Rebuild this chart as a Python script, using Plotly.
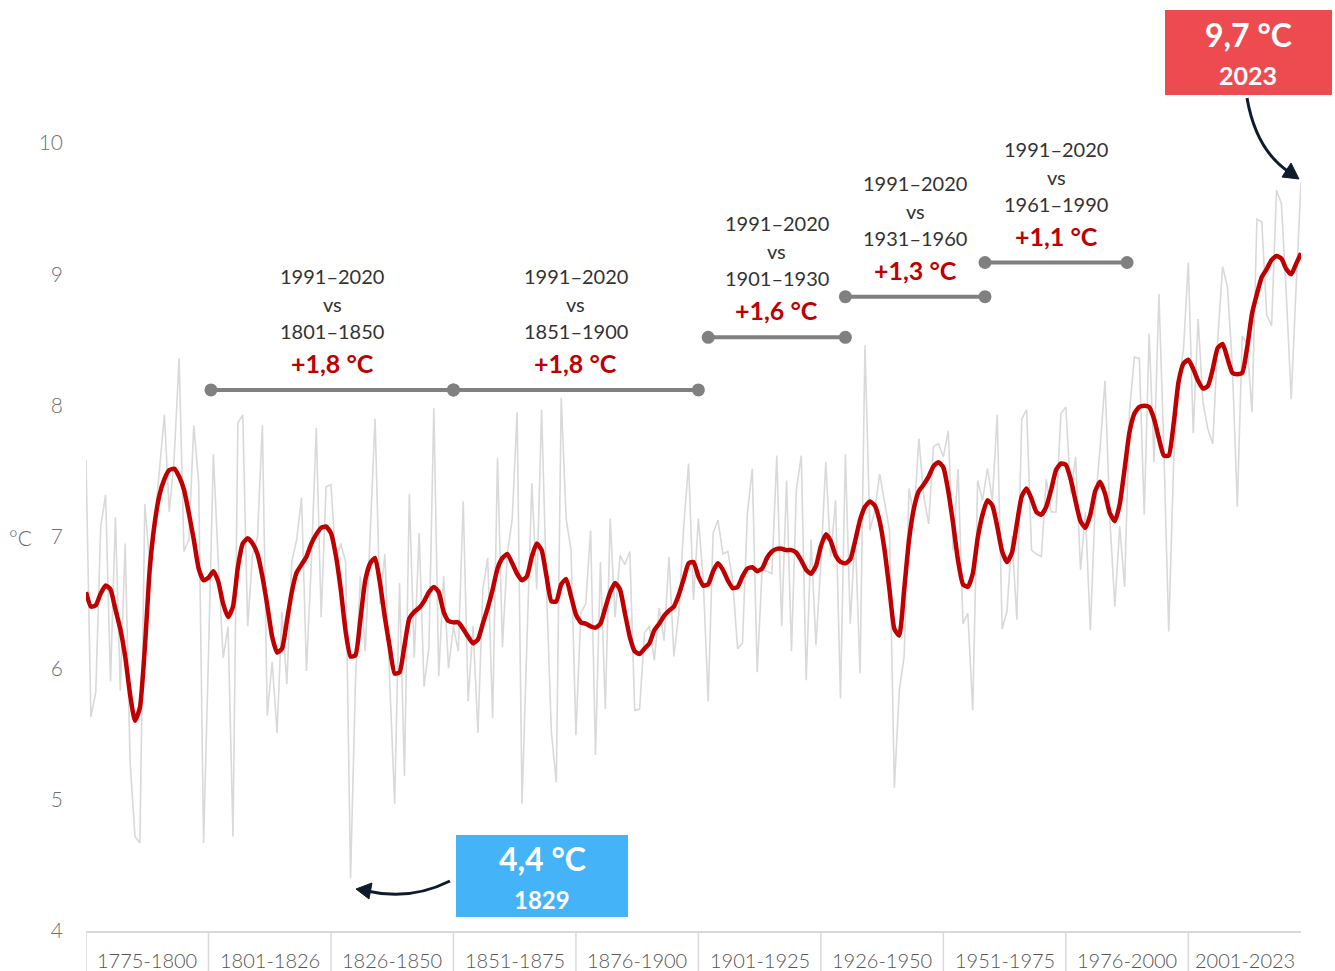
import plotly.graph_objects as go

# ---------------- data ----------------
years = list(range(1775, 2024))

annual_temp = [
    7.59, 5.63, 5.82, 7.08, 7.32, 5.90, 7.15, 5.83, 6.95, 5.29,
    4.72, 4.67, 7.25, 6.80, 7.10, 7.50, 7.93, 7.19, 7.60, 8.36,
    6.89, 6.98, 7.85, 7.41, 4.67, 6.10, 7.63, 6.81, 6.08, 6.32,
    4.72, 7.87, 7.93, 6.32, 6.87, 7.00, 7.85, 5.64, 6.05, 5.51,
    6.43, 5.88, 6.81, 6.98, 7.30, 5.98, 6.81, 7.83, 6.39, 7.38,
    7.40, 6.81, 6.95, 6.81, 4.40, 5.90, 6.70, 6.13, 7.00, 7.90,
    6.49, 6.87, 5.90, 4.97, 6.65, 5.18, 7.33, 6.08, 7.03, 5.86,
    6.16, 7.98, 5.94, 6.70, 6.00, 6.32, 6.13, 7.27, 5.75, 6.32,
    5.51, 6.60, 6.84, 5.62, 7.60, 6.16, 6.87, 7.14, 7.95, 4.97,
    6.20, 7.41, 6.60, 7.97, 6.60, 5.51, 5.13, 8.06, 7.14, 6.90,
    5.49, 6.42, 6.49, 7.05, 5.34, 6.81, 5.69, 7.14, 6.39, 6.86,
    6.79, 6.89, 5.68, 5.69, 6.27, 6.32, 6.06, 6.46, 6.21, 6.85,
    6.09, 6.42, 7.08, 7.56, 6.52, 7.14, 6.67, 5.75, 7.03, 7.13,
    6.87, 6.89, 6.67, 6.15, 6.19, 7.18, 7.52, 5.97, 6.75, 6.74,
    6.72, 7.62, 6.32, 7.43, 6.13, 7.36, 7.62, 5.91, 6.98, 6.18,
    6.80, 7.57, 6.85, 7.28, 5.77, 7.63, 6.34, 7.03, 5.96, 8.46,
    7.05, 7.20, 7.48, 7.25, 7.05, 5.09, 5.83, 6.09, 7.37, 7.15,
    7.75, 7.31, 7.10, 7.69, 7.71, 7.61, 7.81, 6.90, 7.52, 6.34,
    6.42, 5.68, 7.43, 7.28, 7.52, 7.28, 7.93, 6.30, 6.44, 7.01,
    6.37, 7.90, 7.97, 6.90, 6.87, 6.85, 7.44, 7.19, 7.19, 7.94,
    7.99, 7.33, 7.61, 6.75, 7.19, 6.29, 7.25, 7.68, 8.19, 7.13,
    6.47, 7.08, 6.62, 7.96, 8.37, 8.36, 7.17, 8.55, 7.57, 8.85,
    7.68, 6.28, 7.56, 8.17, 8.42, 9.09, 7.79, 8.66, 8.02, 7.82,
    7.71, 8.50, 9.06, 8.90, 8.29, 7.23, 8.53, 8.47, 7.95, 9.42,
    9.40, 8.69, 8.61, 9.64, 9.54, 8.85, 8.05, 8.90, 9.70,
]

smoothed_temp = [
    6.58, 6.47, 6.48, 6.57, 6.63, 6.60, 6.45, 6.30, 6.09, 5.80,
    5.60, 5.70, 6.15, 6.75, 7.10, 7.32, 7.44, 7.51, 7.52, 7.46,
    7.36, 7.18, 6.98, 6.76, 6.67, 6.69, 6.74, 6.66, 6.49, 6.39,
    6.47, 6.77, 6.95, 6.99, 6.95, 6.87, 6.70, 6.48, 6.24, 6.12,
    6.15, 6.36, 6.58, 6.73, 6.79, 6.85, 6.95, 7.02, 7.07, 7.08,
    7.03, 6.86, 6.60, 6.28, 6.09, 6.10, 6.37, 6.67, 6.80, 6.84,
    6.65, 6.39, 6.16, 5.96, 5.97, 6.17, 6.38, 6.43, 6.46, 6.51,
    6.58, 6.62, 6.58, 6.43, 6.36, 6.35, 6.35, 6.30, 6.24, 6.19,
    6.22, 6.34, 6.46, 6.60, 6.76, 6.84, 6.87, 6.80, 6.72, 6.67,
    6.70, 6.85, 6.95, 6.90, 6.70, 6.51, 6.51, 6.64, 6.68, 6.55,
    6.41, 6.35, 6.34, 6.32, 6.31, 6.34, 6.46, 6.58, 6.65, 6.60,
    6.42, 6.24, 6.13, 6.11, 6.15, 6.19, 6.29, 6.34, 6.40, 6.44,
    6.47, 6.56, 6.68, 6.80, 6.81, 6.70, 6.63, 6.64, 6.74, 6.80,
    6.75, 6.67, 6.61, 6.62, 6.70, 6.76, 6.77, 6.74, 6.76, 6.84,
    6.89, 6.91, 6.91, 6.90, 6.90, 6.88, 6.82, 6.75, 6.72, 6.78,
    6.93, 7.02, 6.97, 6.86, 6.81, 6.80, 6.83, 6.97, 7.13, 7.23,
    7.27, 7.24, 7.12, 6.90, 6.60, 6.30, 6.25, 6.60, 6.98, 7.22,
    7.35, 7.40, 7.46, 7.54, 7.57, 7.53, 7.35, 7.10, 6.82, 6.64,
    6.62, 6.72, 6.99, 7.17, 7.28, 7.24, 7.08, 6.89, 6.81, 6.88,
    7.10, 7.31, 7.37, 7.29, 7.19, 7.17, 7.23, 7.36, 7.51, 7.56,
    7.55, 7.44, 7.27, 7.12, 7.07, 7.17, 7.35, 7.42, 7.33, 7.18,
    7.12, 7.25, 7.52, 7.80, 7.94, 7.99, 8.00, 7.99, 7.90, 7.75,
    7.62, 7.62, 7.86, 8.18, 8.32, 8.35, 8.28, 8.19, 8.13, 8.15,
    8.28, 8.44, 8.47, 8.36, 8.25, 8.24, 8.25, 8.44, 8.70, 8.85,
    8.98, 9.04, 9.11, 9.14, 9.12, 9.04, 9.00, 9.08, 9.16,
]

period_labels = ["1775-1800", "1801-1826", "1826-1850", "1851-1875", "1876-1900",
                 "1901-1925", "1926-1950", "1951-1975", "1976-2000", "2001-2023"]
period_bounds = [1775, 1800, 1825, 1850, 1875, 1900, 1925, 1950, 1975, 2000, 2023]

y_ticks = [4, 5, 6, 7, 8, 9, 10]

cmp_recent = ["1991–2020"] * 5
cmp_reference = ["1801–1850", "1851–1900", "1901–1930", "1931–1960", "1961–1990"]
cmp_delta = ["+1,8 °C", "+1,8 °C", "+1,6 °C", "+1,3 °C", "+1,1 °C"]
cmp_start = [1800.5, 1850, 1902, 1930, 1958.5]
cmp_end = [1850, 1900, 1930, 1958.5, 1987.5]
cmp_level = [8.12, 8.12, 8.52, 8.83, 9.09]

max_label = ("9,7 °C", "2023")
min_label = ("4,4 °C", "1829")

# ---------------- styling ----------------
FONT = "Lato, 'Open Sans', sans-serif"
RED = "#C00000"
GRAY_LINE = "#D9D9D9"
DUMB = "#808080"
TEXT = "#333333"
ARROW = "#0F1B2D"

W, H = 1335, 971
L, R, T, B = 86, 34, 143, 40
PW, PH = W - L - R, H - T - B


def pxx(x):
    return (x - L) / PW


def pxy(y):
    return (H - B - y) / PH


def pt(x, y):
    return f"{pxx(x):.5f},{pxy(y):.5f}"


fig = go.Figure()

fig.add_trace(go.Scatter(
    x=years, y=annual_temp, mode="lines",
    line=dict(color=GRAY_LINE, width=1.6),
    hoverinfo="skip", cliponaxis=False,
))
fig.add_trace(go.Scatter(
    x=years, y=smoothed_temp, mode="lines",
    line=dict(color=RED, width=4.5, shape="spline", smoothing=0.5),
    hoverinfo="skip", cliponaxis=False,
))

annotations = []
for s, e, lv, rec, ref, d in zip(cmp_start, cmp_end, cmp_level, cmp_recent, cmp_reference, cmp_delta):
    fig.add_trace(go.Scatter(
        x=[s, e], y=[lv, lv], mode="lines+markers",
        line=dict(color=DUMB, width=4),
        marker=dict(color=DUMB, size=13),
        hoverinfo="skip", cliponaxis=False,
    ))
    mid = (s + e) / 2
    for txt, shift in [(rec, 114), ("vs", 86), (ref, 59)]:
        annotations.append(dict(
            x=mid, y=lv, xref="x", yref="y", text=txt, showarrow=False,
            yanchor="middle", xanchor="center", yshift=shift,
            font=dict(family=FONT, size=20, color=TEXT, weight=400),
        ))
    annotations.append(dict(
        x=mid, y=lv, xref="x", yref="y", text=d, showarrow=False,
        yanchor="middle", xanchor="center", yshift=27,
        font=dict(family=FONT, size=25, color=RED, weight=700),
    ))

# period labels under the axis
for i, lab in enumerate(period_labels):
    mid = (period_bounds[i] + period_bounds[i + 1]) / 2
    annotations.append(dict(
        x=mid, y=0, xref="x", yref="paper", text=lab, showarrow=False,
        yanchor="middle", xanchor="center", yshift=-29,
        font=dict(family=FONT, size=20, color="#555555", weight=300),
    ))

# unit label
annotations.append(dict(
    x=pxx(20), y=7, xref="paper", yref="y", text="°C", showarrow=False,
    xanchor="center", yanchor="middle",
    font=dict(family=FONT, size=21, color="#666666", weight=300),
))

# callout texts
annotations += [
    dict(x=pxx(1248), y=pxy(35), xref="paper", yref="paper", text=max_label[0],
         showarrow=False, xanchor="center", yanchor="middle",
         font=dict(family=FONT, size=32, color="white", weight=700)),
    dict(x=pxx(1248), y=pxy(75), xref="paper", yref="paper", text=max_label[1],
         showarrow=False, xanchor="center", yanchor="middle",
         font=dict(family=FONT, size=25, color="white", weight=700)),
    dict(x=pxx(542), y=pxy(858), xref="paper", yref="paper", text=min_label[0],
         showarrow=False, xanchor="center", yanchor="middle",
         font=dict(family=FONT, size=32, color="white", weight=700)),
    dict(x=pxx(542), y=pxy(899), xref="paper", yref="paper", text=min_label[1],
         showarrow=False, xanchor="center", yanchor="middle",
         font=dict(family=FONT, size=24, color="white", weight=700)),
]

shapes = []
# separators below axis
for b in period_bounds[:-1]:
    shapes.append(dict(type="line", xref="x", yref="paper", x0=b, x1=b,
                       y0=0, y1=-B / PH, line=dict(color=GRAY_LINE, width=1.5)))
# callout boxes
shapes.append(dict(type="rect", xref="paper", yref="paper",
                   x0=pxx(1165), x1=pxx(1332), y0=pxy(95), y1=pxy(10),
                   fillcolor="#EE4B50", line=dict(width=0), layer="below"))
shapes.append(dict(type="rect", xref="paper", yref="paper",
                   x0=pxx(456), x1=pxx(628), y0=pxy(917), y1=pxy(835),
                   fillcolor="#45B3F8", line=dict(width=0), layer="below"))
# curved arrows
shapes.append(dict(type="path", xref="paper", yref="paper",
                   path=f"M {pt(1247, 98)} Q {pt(1256, 150)} {pt(1289, 172)}",
                   line=dict(color=ARROW, width=3)))
shapes.append(dict(type="path", xref="paper", yref="paper",
                   path=f"M {pt(1299, 179)} L {pt(1282, 177)} L {pt(1291, 163)} Z",
                   fillcolor=ARROW, line=dict(color=ARROW, width=1)))
shapes.append(dict(type="path", xref="paper", yref="paper",
                   path=f"M {pt(450, 881)} Q {pt(410, 901)} {pt(367, 891)}",
                   line=dict(color=ARROW, width=3)))
shapes.append(dict(type="path", xref="paper", yref="paper",
                   path=f"M {pt(356, 889)} L {pt(372, 883)} L {pt(369, 899)} Z",
                   fillcolor=ARROW, line=dict(color=ARROW, width=1)))

fig.update_layout(
    width=W, height=H,
    margin=dict(l=L, r=R, t=T, b=B, pad=0, autoexpand=False),
    plot_bgcolor="white", paper_bgcolor="white",
    showlegend=False, hovermode=False,
    font=dict(family=FONT),
    annotations=annotations, shapes=shapes,
    xaxis=dict(range=[1775, 2023], showgrid=False, zeroline=False,
               showticklabels=False, ticks="", showline=True,
               linecolor=GRAY_LINE, linewidth=2, automargin=False,
               fixedrange=True),
    yaxis=dict(range=[4, 10], tickvals=y_ticks, ticktext=[str(v) for v in y_ticks],
               showgrid=False, zeroline=False, showline=False, ticks="",
               tickfont=dict(family=FONT, size=21, color="#707070", weight=300),
               ticklabelstandoff=22, automargin=False, fixedrange=True),
)

fig.write_html(
    "out.html",
    config={"displayModeBar": False},
    post_script="document.body.style.margin='0';document.body.style.overflow='hidden';",
)
